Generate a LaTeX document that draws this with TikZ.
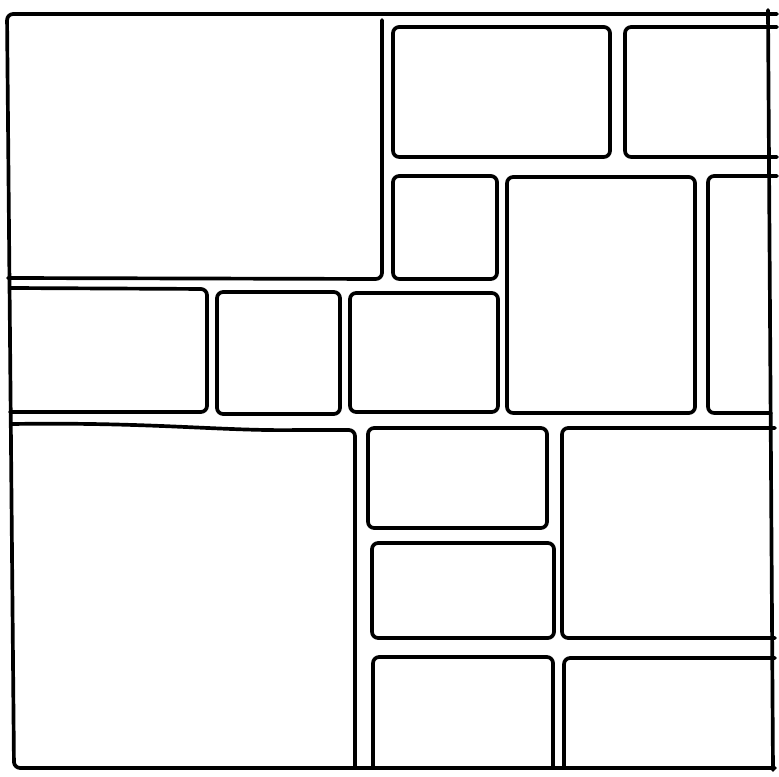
\documentclass[tikz,border=0pt]{standalone}
\usepackage{tikz}

\begin{document}
\begin{tikzpicture}[
  x=0.02cm, y=-0.02cm,
  line cap=round,
  line join=round,
  stone/.style={draw=black, line width=2.1pt, rounded corners=3.5pt},
  edge/.style={draw=black, line width=2.1pt}
]
  \useasboundingbox (0,0) rectangle (779,777);

  % Outer frame
  \draw[stone] (777,14) -- (7,14) -- (14,768) -- (775,768);
  \draw[edge] (768,10) -- (773,770);

  % Top block: large slab on the left, small slabs on the right
  \draw[stone] (8,278) -- (382,279) -- (382,20);
  \draw[stone] (393,27) rectangle (610,157);
  \draw[stone] (777,27) -- (625,27) -- (625,157) -- (777,157);
  \draw[stone] (393,176) rectangle (497,279);
  \draw[stone] (507,177) rectangle (695,413);
  \draw[stone] (777,176) -- (708,176) -- (708,413) -- (771,413);

  % Middle row
  \draw[stone] (10,288) -- (207,289) -- (207,412) -- (10,412);
  \draw[stone] (217,292) rectangle (340,414);
  \draw[stone] (350,293) rectangle (498,412);

  % Bottom block: large slab on the left, smaller slabs on the right
  \draw[stone] (12,424) .. controls (150,422) and (220,431) .. (300,430) -- (355,430) -- (355,768);
  \draw[stone] (368,428) rectangle (547,528);
  \draw[stone] (372,543) rectangle (554,638);
  \draw[stone] (775,428) -- (562,428) -- (562,638) -- (775,638);
  \draw[stone] (373,768) -- (373,657) -- (553,657) -- (553,768);
  \draw[stone] (564,768) -- (564,658) -- (775,658);
\end{tikzpicture}
\end{document}
